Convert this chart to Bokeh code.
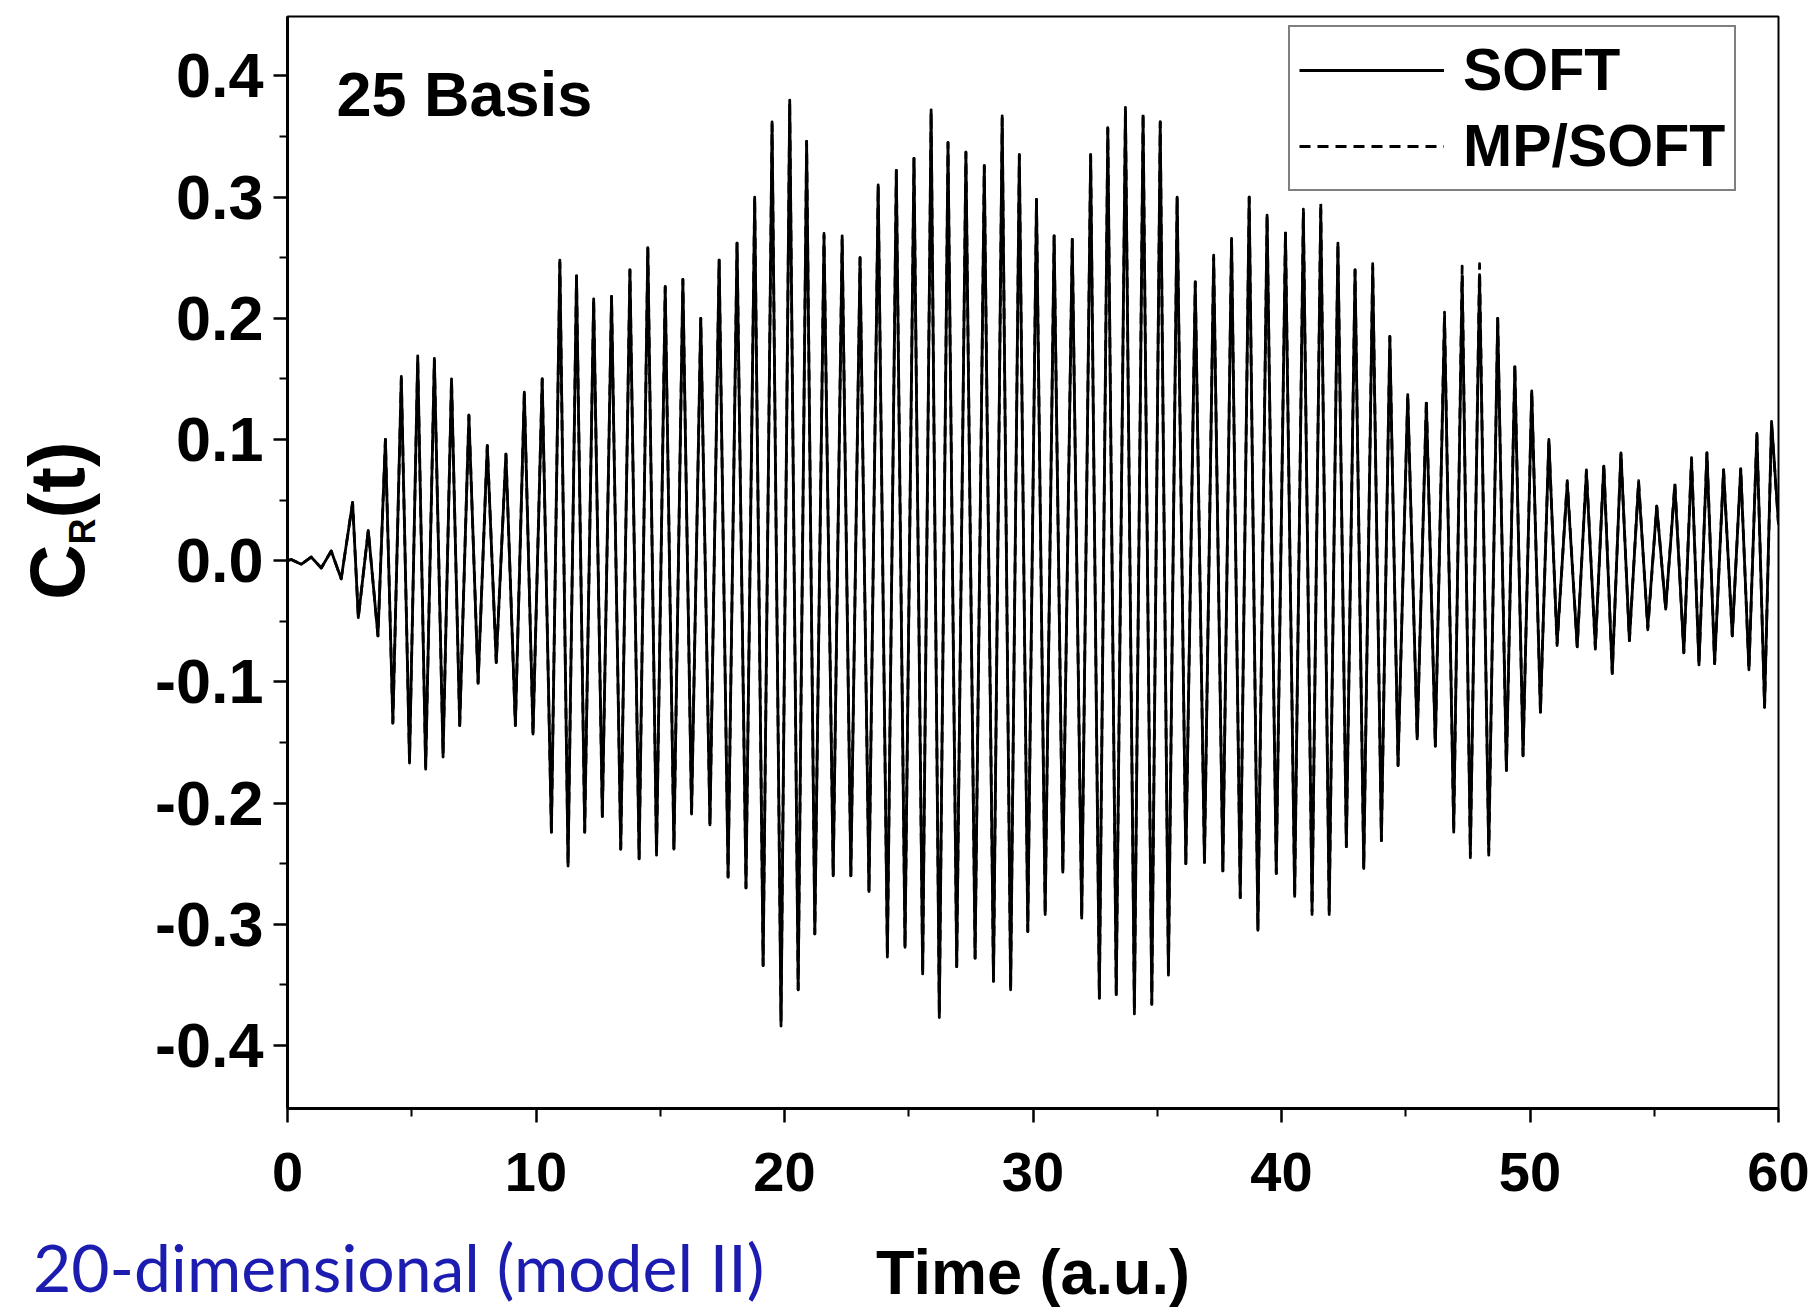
from bokeh.plotting import figure
from bokeh.models import Range1d, Label, Legend, LegendItem, FixedTicker, PrintfTickFormatter, Div
from bokeh.layouts import column
from bokeh.embed import file_html
from bokeh.resources import INLINE

# ---------------- data ----------------
# times of the local minima of C_R(t)
t_min = [0.55, 1.36, 2.16, 2.85, 3.64, 4.24, 4.91, 5.56, 6.26, 6.93,
         7.67, 8.40, 9.17, 9.88, 10.62, 11.29, 11.96, 12.67, 13.41, 14.15,
         14.85, 15.55, 16.26, 17.00, 17.73, 18.45, 19.14, 19.86, 20.55, 21.22,
         21.96, 22.67, 23.40, 24.14, 24.85, 25.56, 26.23, 26.93, 27.67, 28.41,
         29.10, 29.79, 30.49, 31.20, 31.96, 32.67, 33.35, 34.08, 34.78, 35.45,
         36.15, 36.90, 37.64, 38.34, 39.05, 39.79, 40.53, 41.23, 41.92, 42.61,
         43.31, 44.02, 44.69, 45.46, 46.19, 46.93, 47.60, 48.34, 49.05, 49.72,
         50.42, 51.09, 51.90, 52.63, 53.31, 54.00, 54.74, 55.46, 56.19, 56.80,
         57.43, 58.14, 58.81, 59.44]
soft_min = [-0.003, -0.006, -0.015, -0.047, -0.062, -0.134, -0.167, -0.172, -0.162, -0.136,
            -0.101, -0.084, -0.136, -0.143, -0.224, -0.252, -0.224, -0.211, -0.238, -0.246,
            -0.243, -0.238, -0.209, -0.218, -0.261, -0.270, -0.334, -0.384, -0.354, -0.308,
            -0.260, -0.260, -0.273, -0.327, -0.319, -0.341, -0.377, -0.335, -0.328, -0.347,
            -0.354, -0.306, -0.292, -0.257, -0.295, -0.361, -0.358, -0.374, -0.366, -0.342,
            -0.250, -0.249, -0.256, -0.278, -0.305, -0.258, -0.277, -0.289, -0.289, -0.236,
            -0.254, -0.231, -0.169, -0.147, -0.153, -0.221, -0.242, -0.240, -0.173, -0.161,
            -0.125, -0.068, -0.071, -0.071, -0.093, -0.066, -0.055, -0.040, -0.076, -0.086,
            -0.085, -0.062, -0.090, -0.121]
mp_min = [-0.003, -0.006, -0.015, -0.047, -0.062, -0.134, -0.165, -0.170, -0.160, -0.136,
          -0.101, -0.084, -0.136, -0.143, -0.224, -0.250, -0.224, -0.211, -0.238, -0.246,
          -0.243, -0.238, -0.209, -0.218, -0.261, -0.270, -0.334, -0.380, -0.354, -0.308,
          -0.260, -0.260, -0.273, -0.327, -0.319, -0.341, -0.375, -0.335, -0.328, -0.347,
          -0.354, -0.306, -0.292, -0.257, -0.295, -0.361, -0.358, -0.372, -0.366, -0.342,
          -0.250, -0.249, -0.256, -0.278, -0.305, -0.258, -0.277, -0.292, -0.292, -0.236,
          -0.254, -0.231, -0.169, -0.147, -0.153, -0.224, -0.245, -0.243, -0.173, -0.161,
          -0.125, -0.070, -0.071, -0.073, -0.093, -0.066, -0.057, -0.040, -0.076, -0.086,
          -0.085, -0.062, -0.090, -0.121]

# times of the local maxima of C_R(t)
t_max = [0.15, 0.95, 1.76, 2.62, 3.25, 3.94, 4.58, 5.24, 5.91, 6.60,
         7.30, 8.04, 8.79, 9.53, 10.25, 10.96, 11.63, 12.32, 13.04, 13.78,
         14.50, 15.20, 15.91, 16.63, 17.37, 18.09, 18.80, 19.50, 20.21, 20.89,
         21.59, 22.32, 23.04, 23.77, 24.50, 25.21, 25.90, 26.58, 27.30, 28.04,
         28.76, 29.45, 30.14, 30.85, 31.58, 32.32, 33.01, 33.72, 34.43, 35.12,
         35.80, 36.53, 37.27, 37.99, 38.70, 39.42, 40.16, 40.88, 41.58, 42.27,
         42.96, 43.67, 44.36, 45.08, 45.83, 46.56, 47.27, 47.97, 48.70, 49.39,
         50.07, 50.76, 51.50, 52.27, 52.97, 53.66, 54.37, 55.10, 55.83, 56.50,
         57.12, 57.79, 58.48, 59.13, 59.72]
soft_max = [0.001, 0.003, 0.008, 0.048, 0.025, 0.100, 0.152, 0.169, 0.167, 0.150,
            0.120, 0.095, 0.088, 0.139, 0.150, 0.248, 0.235, 0.216, 0.218, 0.240,
            0.258, 0.226, 0.232, 0.200, 0.248, 0.262, 0.300, 0.362, 0.380, 0.346,
            0.268, 0.265, 0.250, 0.310, 0.322, 0.332, 0.372, 0.345, 0.337, 0.326,
            0.367, 0.335, 0.298, 0.268, 0.265, 0.335, 0.357, 0.374, 0.366, 0.362,
            0.300, 0.230, 0.250, 0.266, 0.300, 0.285, 0.270, 0.287, 0.290, 0.262,
            0.240, 0.242, 0.185, 0.137, 0.130, 0.200, 0.235, 0.236, 0.200, 0.160,
            0.140, 0.100, 0.064, 0.073, 0.078, 0.089, 0.064, 0.045, 0.062, 0.083,
            0.089, 0.075, 0.076, 0.105, 0.115]
mp_max = [0.001, 0.003, 0.008, 0.048, 0.025, 0.100, 0.150, 0.166, 0.165, 0.150,
          0.120, 0.095, 0.088, 0.139, 0.150, 0.246, 0.235, 0.216, 0.218, 0.240,
          0.258, 0.226, 0.232, 0.200, 0.248, 0.262, 0.300, 0.360, 0.377, 0.346,
          0.270, 0.268, 0.250, 0.310, 0.322, 0.332, 0.370, 0.345, 0.337, 0.326,
          0.365, 0.335, 0.298, 0.268, 0.265, 0.335, 0.357, 0.372, 0.370, 0.362,
          0.300, 0.230, 0.252, 0.266, 0.300, 0.285, 0.272, 0.290, 0.296, 0.262,
          0.240, 0.245, 0.185, 0.137, 0.133, 0.205, 0.243, 0.245, 0.200, 0.162,
          0.140, 0.100, 0.066, 0.075, 0.080, 0.089, 0.066, 0.045, 0.064, 0.085,
          0.089, 0.075, 0.076, 0.105, 0.113]

t_start, v_start = 0.0, 0.0
t_end, v_end = 60.0, 0.03

x_ticks = [0, 10, 20, 30, 40, 50, 60]
x_minor = [5, 15, 25, 35, 45, 55]
y_ticks = [-0.4, -0.3, -0.2, -0.1, 0.0, 0.1, 0.2, 0.3, 0.4]
y_minor = [-0.35, -0.25, -0.15, -0.05, 0.05, 0.15, 0.25, 0.35]


def series(tmin, vmin, tmax, vmax):
    pts = sorted([(t_start, v_start), (t_end, v_end)]
                 + list(zip(tmin, vmin)) + list(zip(tmax, vmax)))
    return [a for a, _ in pts], [b for _, b in pts]


soft_t, soft_v = series(t_min, soft_min, t_max, soft_max)
mp_t, mp_v = series(t_min, mp_min, t_max, mp_max)

FONT = "Liberation Sans"

fig = figure(width=1816, height=1310, output_backend="svg", toolbar_location=None,
             title=None, x_range=Range1d(0, 60), y_range=Range1d(-0.452, 0.449),
             min_border_left=287, min_border_right=38, min_border_top=16,
             min_border_bottom=202)
fig.xgrid.visible = False
fig.ygrid.visible = False
fig.outline_line_color = "black"
fig.outline_line_width = 2
fig.background_fill_color = "white"
fig.border_fill_color = "white"

r_soft = fig.line(soft_t, soft_v, line_color="black", line_width=2.8, line_join="round")
r_mp = fig.line(mp_t, mp_v, line_color="black", line_width=2.8, line_dash="11 7",
                line_join="round")

for ax in (fig.xaxis[0], fig.yaxis[0]):
    ax.axis_line_width = 3
    ax.axis_line_color = "black"
    ax.major_tick_line_width = 2.5
    ax.minor_tick_line_width = 2
    ax.major_tick_in = 0
    ax.minor_tick_in = 0
    ax.major_tick_out = 14
    ax.minor_tick_out = 8
    ax.major_label_text_font = FONT
    ax.major_label_text_font_style = "bold"
    ax.major_label_text_color = "black"

fig.xaxis.major_label_text_font_size = "56px"
fig.yaxis.major_label_text_font_size = "63px"
fig.xaxis.ticker = FixedTicker(ticks=x_ticks, minor_ticks=x_minor)
fig.yaxis.ticker = FixedTicker(ticks=y_ticks, minor_ticks=y_minor)
fig.xaxis.formatter = PrintfTickFormatter(format="%d")
fig.yaxis.formatter = PrintfTickFormatter(format="%.1f")
fig.xaxis.major_label_standoff = 30
fig.yaxis.major_label_standoff = 10

fig.xaxis.axis_label = "Time (a.u.)"
fig.xaxis.axis_label_text_font = FONT
fig.xaxis.axis_label_text_font_style = "bold"
fig.xaxis.axis_label_text_font_size = "63px"
fig.xaxis.axis_label_text_color = "black"
fig.xaxis.axis_label_standoff = 43

fig.add_layout(Label(x=49, y=1015, x_units="screen", y_units="screen", text="25 Basis",
                     text_font=FONT, text_font_style="bold", text_font_size="63px",
                     text_color="black", text_baseline="alphabetic"))

legend = Legend(items=[LegendItem(label="SOFT", renderers=[r_soft]),
                       LegendItem(label="MP/SOFT", renderers=[r_mp])],
                location=(1001, 917), orientation="vertical",
                glyph_width=145, glyph_height=54, label_standoff=19,
                padding=9, spacing=8, margin=0,
                label_text_font=FONT, label_text_font_style="bold",
                label_text_font_size="59px", label_text_color="black",
                border_line_color="black", border_line_width=2,
                background_fill_color="white", background_fill_alpha=1.0)
fig.add_layout(legend)

# texts that lie outside the plot frame
ylab = Div(text='C<span style="font-size:36px;position:relative;top:11px;">R</span>(t)',
           width=10, height=10,
           styles={"position": "absolute", "left": "14px", "top": "595px",
                   "transform": "rotate(-90deg)", "transform-origin": "0 0",
                   "font-family": FONT, "font-weight": "bold", "font-size": "77px",
                   "line-height": "1", "color": "black", "white-space": "nowrap"})
note = Div(text="20-dimensional (model II)", width=10, height=10,
           styles={"position": "absolute", "left": "28px", "top": "1229px",
                   "font-family": "Lato", "font-size": "66px", "line-height": "1",
                   "color": "#1c1cb0", "white-space": "nowrap"})

p = column(fig, ylab, note)

open("out.html", "w").write(file_html(p, INLINE))
